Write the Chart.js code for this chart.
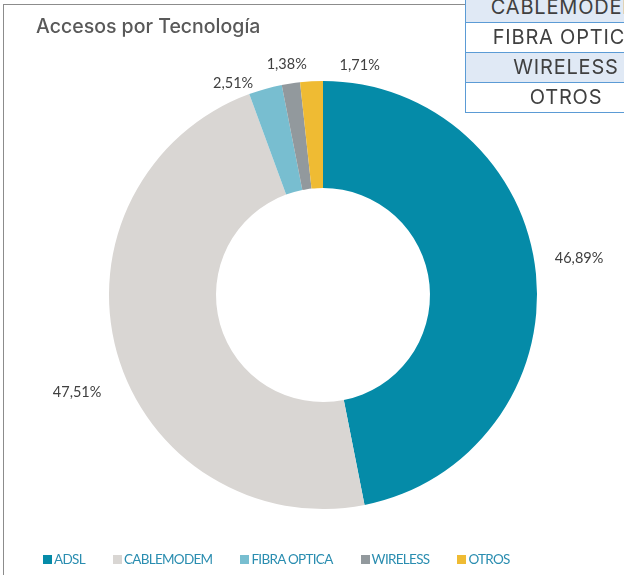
<!DOCTYPE html>
<html>
<head>
<meta charset="utf-8">
<script src="https://cdn.jsdelivr.net/npm/chart.js@4/dist/chart.umd.min.js"></script>
<style>
  html, body { margin: 0; padding: 0; background: #fff; overflow: hidden; }
  body { width: 624px; height: 575px; position: relative; }
  #frame { position: absolute; left: 3px; top: 4px; width: 700px; height: 700px; border: 1px solid #8c8c8c; }
  #title { position: absolute; left: 36px; top: 14px; font-family: Inter, "Noto Sans", sans-serif; font-weight: 500; font-size: 19.5px; color: #595959; white-space: nowrap; }
  #chart { position: absolute; left: 0; top: 0; }
  #techTable { position: absolute; left: 465px; top: -8px; width: 200px; table-layout: fixed; border-collapse: collapse; font-family: Inter, "Noto Sans", sans-serif; font-size: 20px; letter-spacing: 0.8px; color: #404040; }
  #techTable td { width: 200px; height: 29px; padding: 0; text-align: center; border: 1.5px solid #5b9bd5; line-height: 29px; white-space: nowrap; overflow: hidden; }
  #techTable tr:nth-child(odd) td { background: #e0e9f5; }
  #legend { position: absolute; left: 43px; top: 551px; display: flex; gap: 28px; font-family: Lato, sans-serif; font-size: 13.5px; letter-spacing: -0.7px; color: #2a8db0; white-space: nowrap; }
  #legend span.item { display: flex; align-items: center; }
  #legend span.box { display: inline-block; width: 9px; height: 9px; margin-right: 2px; }
</style>
</head>
<body>
<div id="frame"></div>
<canvas id="chart" width="624" height="575"></canvas>
<div id="title">Accesos por Tecnología</div>
<table id="techTable"></table>
<div id="legend"></div>
<script>
// Data
const categories = ['ADSL', 'CABLEMODEM', 'FIBRA OPTICA', 'WIRELESS', 'OTROS'];
const shares = [46.89, 47.51, 2.51, 1.38, 1.71];
const tableRows = ['CABLEMODEM', 'FIBRA OPTICA', 'WIRELESS', 'OTROS'];

// Styles
const sliceColors = ['#058ba8', '#d9d6d3', '#78bed0', '#92999d', '#efbb33'];
const labelNudge = [[5, -14], [-3, 34], [-23, 15], [1, 2], [50, 5]];

function fmt(v) {
    return v.toFixed(2).replace('.', ',') + '%';
}

// side table (cut off at the right edge)
const table = document.getElementById('techTable');
tableRows.forEach(name => {
    const tr = document.createElement('tr');
    const td = document.createElement('td');
    td.textContent = name;
    tr.appendChild(td);
    table.appendChild(tr);
});

// legend
const legend = document.getElementById('legend');
categories.forEach((c, i) => {
    const item = document.createElement('span');
    item.className = 'item';
    const box = document.createElement('span');
    box.className = 'box';
    box.style.background = sliceColors[i];
    item.appendChild(box);
    item.appendChild(document.createTextNode(c));
    legend.appendChild(item);
});

const outsideLabels = {
    id: 'outsideLabels',
    afterDatasetsDraw(chart) {
        const ctx = chart.ctx;
        const arcs = chart.getDatasetMeta(0).data;
        ctx.save();
        ctx.font = '14.5px Lato, "Liberation Sans", sans-serif';
        ctx.fillStyle = '#404040';
        ctx.textAlign = 'center';
        ctx.textBaseline = 'middle';
        arcs.forEach((arc, i) => {
            const p = arc.getProps(['x', 'y', 'startAngle', 'endAngle', 'outerRadius'], true);
            const mid = (p.startAngle + p.endAngle) / 2;
            const text = fmt(shares[i]);
            const w = ctx.measureText(text).width;
            const r = p.outerRadius + 14;
            const cx = p.x + Math.cos(mid) * (r + w / 2) + labelNudge[i][0];
            const cy = p.y + Math.sin(mid) * (r + 7) + labelNudge[i][1];
            ctx.fillText(text, cx, cy);
        });
        ctx.restore();
    }
};

new Chart(document.getElementById('chart').getContext('2d'), {
    type: 'doughnut',
    data: {
        labels: categories,
        datasets: [{
            data: shares,
            backgroundColor: sliceColors,
            borderWidth: 0
        }]
    },
    options: {
        responsive: false,
        animation: false,
        cutout: '50%',
        layout: {
            padding: { left: 109, right: 87, top: 81, bottom: 66 }
        },
        plugins: {
            legend: { display: false },
            tooltip: { enabled: false }
        }
    },
    plugins: [outsideLabels]
});
</script>
</body>
</html>
